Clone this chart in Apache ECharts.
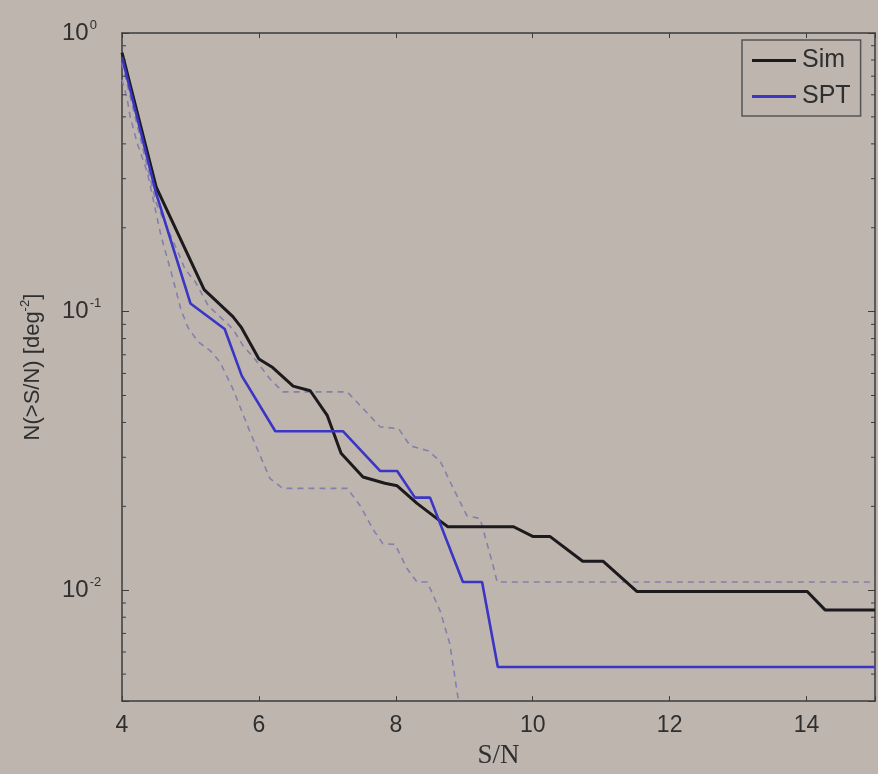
<!DOCTYPE html>
<html>
<head>
<meta charset="utf-8">
<title>N(&gt;S/N)</title>
<script src="https://cdn.jsdelivr.net/npm/echarts@6/dist/echarts.min.js"></script>
<style>
  html, body { margin: 0; padding: 0; background: #bdb5ae; }
  #chart { width: 878px; height: 774px; }
</style>
</head>
<body>
<div id="chart"></div>
<script>
// Cumulative counts above a given S/N threshold
const simSN  = [4.0, 4.5, 5.2, 5.62, 5.74, 6.0, 6.19, 6.5, 6.75, 7.0, 7.2, 7.52, 7.84, 8.02, 8.31, 8.65, 8.76, 9.72, 10.0, 10.25, 10.73, 11.03, 11.52, 14.01, 14.27, 15.0];
const simN   = [0.85, 0.28, 0.12, 0.096, 0.088, 0.0676, 0.0633, 0.054, 0.052, 0.0423, 0.031, 0.0255, 0.0242, 0.0237, 0.0205, 0.0177, 0.0169, 0.0169, 0.0156, 0.0156, 0.0127, 0.0127, 0.0099, 0.0099, 0.0085, 0.0085];

const sptSN  = [4.0, 4.5, 5.0, 5.5, 5.75, 6.24, 7.23, 7.77, 8.02, 8.28, 8.5, 8.98, 9.26, 9.49, 15.0];
const sptN   = [0.82, 0.265, 0.107, 0.0866, 0.0588, 0.0372, 0.0372, 0.0268, 0.0268, 0.0215, 0.0215, 0.0107, 0.0107, 0.0053, 0.0053];

// Upper and lower bounds (dashed)
const upperSN = [4.0, 4.5, 4.82, 4.92, 5.07, 5.26, 5.62, 5.77, 5.94, 6.16, 6.35, 7.29, 7.43, 7.62, 7.77, 8.04, 8.21, 8.48, 8.65, 8.84, 9.04, 9.23, 9.42, 9.48, 15.0];
const upperN  = [0.78, 0.245, 0.163, 0.142, 0.128, 0.105, 0.0866, 0.0753, 0.0676, 0.0574, 0.0515, 0.0515, 0.0474, 0.0423, 0.0386, 0.038, 0.033, 0.0316, 0.029, 0.0232, 0.0185, 0.0181, 0.0123, 0.0107, 0.0107];

const lowerSN = [4.0, 4.07, 4.12, 4.22, 4.37, 4.57, 4.72, 4.86, 4.96, 5.11, 5.30, 5.43, 5.62, 5.87, 6.16, 6.35, 7.29, 7.48, 7.67, 7.81, 7.99, 8.16, 8.31, 8.46, 8.65, 8.79, 8.89, 8.93];
const lowerN  = [0.68, 0.59, 0.50, 0.404, 0.316, 0.187, 0.138, 0.102, 0.088, 0.078, 0.072, 0.066, 0.0528, 0.037, 0.0252, 0.0232, 0.0232, 0.0201, 0.0165, 0.0147, 0.0146, 0.012, 0.0107, 0.0107, 0.0084, 0.0064, 0.0044, 0.0038];

const xTicks = [4, 6, 8, 10, 12, 14];
const minorVals = [0.005, 0.006, 0.007, 0.008, 0.009,
                   0.02, 0.03, 0.04, 0.05, 0.06, 0.07, 0.08, 0.09,
                   0.2, 0.3, 0.4, 0.5, 0.6, 0.7, 0.8, 0.9];

const X_MIN = 4, X_MAX = 15, Y_MIN = 0.004, Y_MAX = 1;

const pair = (xs, ys) => xs.map((x, i) => [x, ys[i]]);

const INK = '#2f2f2f';
const BOX = '#3c3c3c';
const DASH = '#8580ab';
const SANS = 'Liberation Sans, Arial, sans-serif';

const chart = echarts.init(document.getElementById('chart'), null, { renderer: 'canvas' });

const powLabel = v => {
  const e = Math.log10(v);
  if (Math.abs(e - Math.round(e)) > 1e-6) return '';
  return '{b|10}{s|' + Math.round(e) + '}';
};

const yLabelRich = {
  b: { fontSize: 24, color: INK, fontFamily: SANS },
  s: { fontSize: 13, color: INK, fontFamily: SANS, padding: [0, 0, 16, 1] }
};

chart.setOption({
  animation: false,
  backgroundColor: '#bdb5ae',
  grid: { left: 122, right: 3, top: 33, bottom: 72, containLabel: false },
  legend: {
    data: ['Sim', 'SPT'],
    orient: 'vertical',
    left: 742,
    top: 40,
    icon: 'rect',
    padding: [8, 10, 7, 10],
    itemGap: 11,
    itemWidth: 44,
    itemHeight: 3,
    borderColor: '#555555',
    borderWidth: 1.5,
    textStyle: { fontSize: 25, color: INK, fontFamily: SANS, padding: [0, 0, 0, 1] }
  },
  xAxis: [{
    type: 'value',
    min: X_MIN, max: X_MAX, interval: 2,
    position: 'bottom',
    name: 'S/N',
    nameLocation: 'middle',
    nameGap: 40,
    nameTextStyle: { fontSize: 27, color: INK, fontFamily: 'Liberation Serif, Times New Roman, serif' },
    axisLine: { show: true, onZero: false, lineStyle: { color: BOX, width: 1.5 } },
    axisTick: { show: true, inside: true, length: 5, lineStyle: { color: BOX } },
    axisLabel: {
      margin: 13, fontSize: 23, color: INK, fontFamily: SANS,
      formatter: v => (xTicks.indexOf(v) >= 0 ? String(v) : '')
    },
    splitLine: { show: false }
  }, {
    type: 'value',
    min: X_MIN, max: X_MAX, interval: 2,
    position: 'top',
    axisLine: { show: true, onZero: false, lineStyle: { color: BOX, width: 1.5 } },
    axisTick: { show: true, inside: true, length: 5, lineStyle: { color: BOX } },
    axisLabel: { show: false },
    splitLine: { show: false }
  }],
  yAxis: [{
    type: 'log',
    logBase: 10,
    min: Y_MIN, max: Y_MAX,
    position: 'left',
    name: 'N(>S/N) [deg{s|-2}]',
    nameLocation: 'middle',
    nameRotate: 90,
    nameGap: 76,
    nameTextStyle: {
      fontSize: 22, color: INK, fontFamily: SANS,
      rich: { s: { fontSize: 13, color: INK, fontFamily: SANS, padding: [0, 0, 14, 0] } }
    },
    axisLine: { show: true, onZero: false, lineStyle: { color: BOX, width: 1.5 } },
    axisTick: { show: true, inside: true, length: 7, lineStyle: { color: BOX } },
    axisLabel: { margin: 60, align: 'left', formatter: powLabel, rich: yLabelRich },
    splitLine: { show: false }
  }, {
    type: 'log',
    logBase: 10,
    min: Y_MIN, max: Y_MAX,
    position: 'right',
    axisLine: { show: true, onZero: false, lineStyle: { color: BOX, width: 1.5 } },
    axisTick: { show: true, inside: true, length: 7, lineStyle: { color: BOX } },
    axisLabel: { show: false },
    splitLine: { show: false }
  }],
  series: [
    {
      name: 'upper',
      type: 'line',
      data: pair(upperSN, upperN),
      symbol: 'none',
      lineStyle: { color: DASH, width: 1.6, type: [6, 5] },
      z: 2
    },
    {
      name: 'lower',
      type: 'line',
      data: pair(lowerSN, lowerN),
      symbol: 'none',
      lineStyle: { color: DASH, width: 1.6, type: [6, 5] },
      z: 2
    },
    {
      name: 'Sim',
      type: 'line',
      data: pair(simSN, simN),
      symbol: 'none',
      color: '#1c1a1c',
      lineStyle: { color: '#1c1a1c', width: 3 },
      z: 3
    },
    {
      name: 'SPT',
      type: 'line',
      data: pair(sptSN, sptN),
      symbol: 'none',
      color: '#3a35c4',
      lineStyle: { color: '#3a35c4', width: 2.6 },
      z: 4
    },
    {
      // log minor ticks on the left and right frame edges
      name: 'minor',
      type: 'custom',
      data: minorVals.map(v => [X_MIN, v]),
      encode: { x: 0, y: 1 },
      silent: true,
      z: 5,
      renderItem: (params, api) => {
        const v = api.value(1);
        const pl = api.coord([X_MIN, v]);
        const pr = api.coord([X_MAX, v]);
        const st = { stroke: BOX, lineWidth: 1 };
        return {
          type: 'group',
          children: [
            { type: 'line', shape: { x1: pl[0], y1: pl[1], x2: pl[0] + 4, y2: pl[1] }, style: st },
            { type: 'line', shape: { x1: pr[0], y1: pr[1], x2: pr[0] - 4, y2: pr[1] }, style: st }
          ]
        };
      }
    }
  ]
});
</script>
</body>
</html>
